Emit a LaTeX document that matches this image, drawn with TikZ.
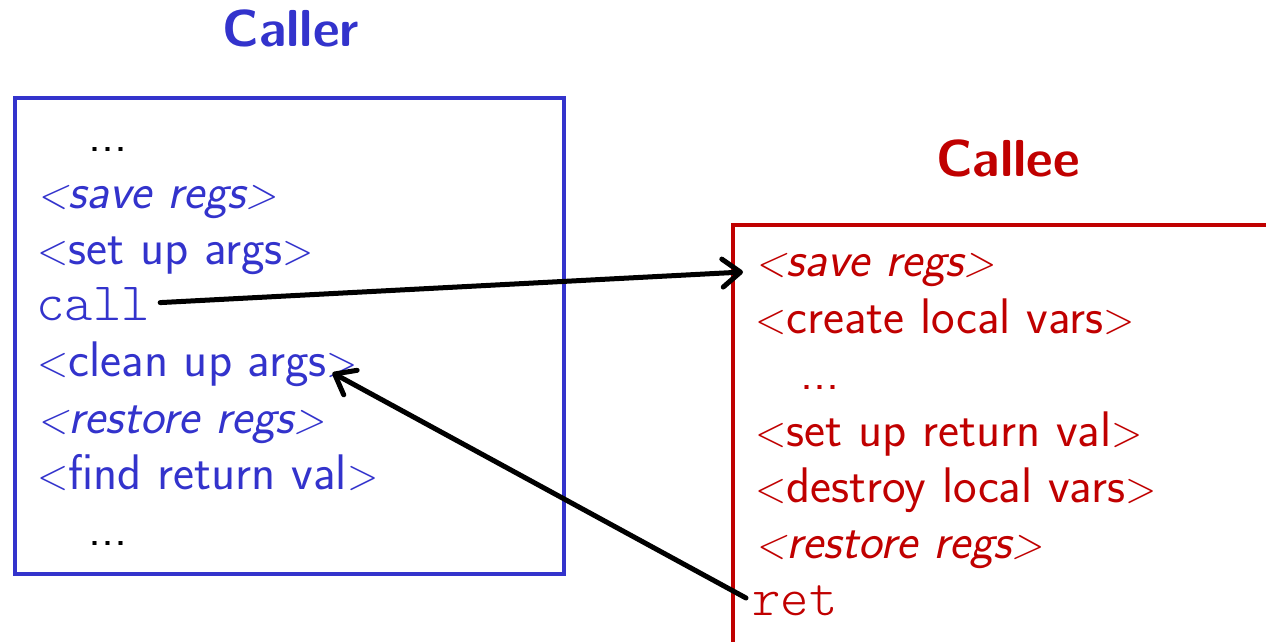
\documentclass[tikz,border=0pt]{standalone}
\usepackage{graphicx}
\usepackage{fontspec}
\setmonofont{lmmonolt10-regular.otf}
\usetikzlibrary{arrows.meta,calc}
\definecolor{callerblue}{RGB}{51,51,204}
\definecolor{calleered}{RGB}{192,0,0}
% slim angle brackets around the pseudo-code steps
\newcommand\opb{\scalebox{0.82}[0.88]{<}}
\newcommand\clb{\scalebox{0.82}[0.88]{>}}
\newcommand\step[1]{\opb#1\clb}
\begin{document}
\begin{tikzpicture}[x=0.5pt,y=-0.5pt,
  codeline/.style={anchor=base west, inner sep=0pt,
    font=\sffamily\fontsize{25}{28}\selectfont},
  ttline/.style={anchor=base west, inner sep=0pt,
    font=\ttfamily\fontsize{27}{30}\selectfont},
  heading/.style={anchor=base, inner sep=0pt,
    font=\sffamily\bfseries\fontsize{26}{30}\selectfont},
  frame/.style={line width=2pt},
  flow/.style={line width=2.5pt, line cap=round,
    -{Straight Barb[length=9pt, width=14pt, line cap=round, line join=round]}}]
\path[use as bounding box, clip] (0,0) rectangle (1266,642);

% caller side
\node[heading, text=callerblue] (callerT) at (291,47) {Caller};
\draw[frame, callerblue] (15,98) rectangle (564,574);
\begin{scope}[every node/.append style={text=callerblue}]
  \node[codeline, text=black] (d1) at (88,152) {...};
  \node[codeline] (save) at (37,208.2) {\itshape\step{save regs}};
  \node[codeline] (setup) at (37,264.4) {\step{set up args}};
  \node[ttline] (call) at (36,320.6) {call};
  \node[codeline] (clean) at (37,376.8) {\step{clean up args}};
  \node[codeline] (restore) at (37,433) {\itshape\step{restore regs}};
  \node[codeline] (find) at (37,489.2) {\step{find return val}};
  \node[codeline, text=black] (d2) at (88,545.4) {...};
\end{scope}

% callee side
\node[heading, text=calleered] (calleeT) at (1008,177) {Callee};
\draw[frame, calleered] (733,225) rectangle (1290,670);
\begin{scope}[every node/.append style={text=calleered}]
  \node[codeline] (csave) at (755,277) {\itshape\step{save regs}};
  \node[codeline] (create) at (755,333.3) {\step{create local vars}};
  \node[codeline] (d3) at (800,389.6) {...};
  \node[codeline] (retval) at (755,446) {\step{set up return val}};
  \node[codeline] (destroy) at (755,502.3) {\step{destroy local vars}};
  \node[codeline] (crestore) at (755,558.6) {\itshape\step{restore regs}};
  \node[ttline] (ret) at (752,615) {ret};
\end{scope}

% control transfer
\coordinate (callout) at ($(call.base east)+(10,-18)$);
\coordinate (savein) at ($(csave.base west)+(-12,-5)$);
\coordinate (retout) at ($(ret.base west)+(-6,-17)$);
\coordinate (cleanin) at ($(clean.base east)+(-26,-4)$);
\draw[flow] (callout) -- (savein);
\draw[flow] (retout) -- (cleanin);
\end{tikzpicture}
\end{document}
